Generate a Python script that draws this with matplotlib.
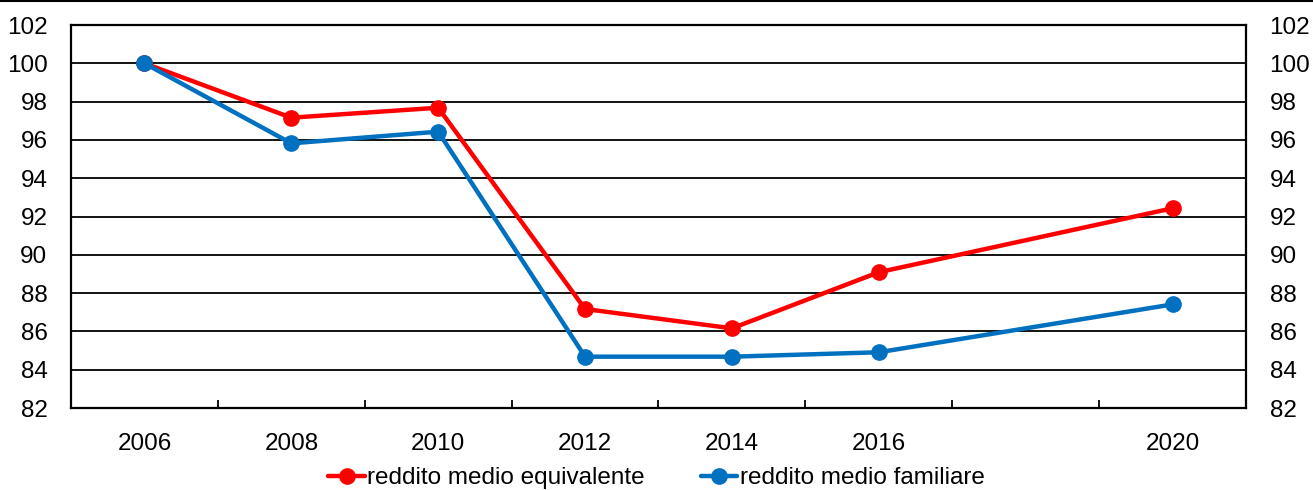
import numpy as np
import matplotlib.pyplot as plt
from matplotlib.lines import Line2D

plt.rcParams['font.family'] = ['Liberation Sans', 'DejaVu Sans']

# categorie sull'asse x (2018 vuoto)
categories = ['2006', '2008', '2010', '2012', '2014', '2016', '', '2020']
equivalente = np.array([100, 97.16, 97.68, 87.17, 86.16, 89.09, np.nan, 92.43])
familiare = np.array([100, 95.82, 96.43, 84.68, 84.68, 84.91, np.nan, 87.41])
y_ticks = np.arange(82, 103, 2)

fig = plt.figure(figsize=(13.13, 4.9), dpi=100)
ax = fig.add_axes([71 / 1313, 1 - 408 / 490, 1175 / 1313, 383 / 490])

x = np.arange(len(categories))
for serie, colore, nome in [(equivalente, '#FF0000', 'reddito medio equivalente'),
                            (familiare, '#0070C0', 'reddito medio familiare')]:
    ok = ~np.isnan(serie)
    ax.plot(x[ok], serie[ok], color=colore, lw=3.2, marker='o', ms=11,
            label=nome, zorder=3, solid_capstyle='round')

ax.set_xlim(-0.5, len(categories) - 0.5)
ax.set_ylim(82, 102)
ax.set_yticks(y_ticks)
ax.set_yticklabels([str(v) for v in y_ticks])
ax.set_xticks(x)
ax.set_xticklabels(categories)
ax.set_xticks(x[:-1] + 0.5, minor=True)
ax.yaxis.grid(True, color='black', lw=1.3)
ax.set_axisbelow(True)

ax.tick_params(axis='x', which='major', length=0, pad=18, labelsize=17.5)
ax.tick_params(axis='x', which='minor', direction='in', length=6, width=1.3)
ax.tick_params(axis='y', length=0, pad=17, labelsize=17.5, labelright=True)
for s in ax.spines.values():
    s.set_linewidth(1.6)
    s.set_color('black')

fig.legend(loc='center', bbox_to_anchor=(0.5, 1 - 478 / 490), ncol=2, frameon=False,
           fontsize=17.5, handlelength=1.5, handletextpad=0.1, columnspacing=2.3)

fig.add_artist(Line2D([0, 1], [0.997, 0.997], color='black', lw=1.5, transform=fig.transFigure))

fig.savefig('out.png', dpi=100)
